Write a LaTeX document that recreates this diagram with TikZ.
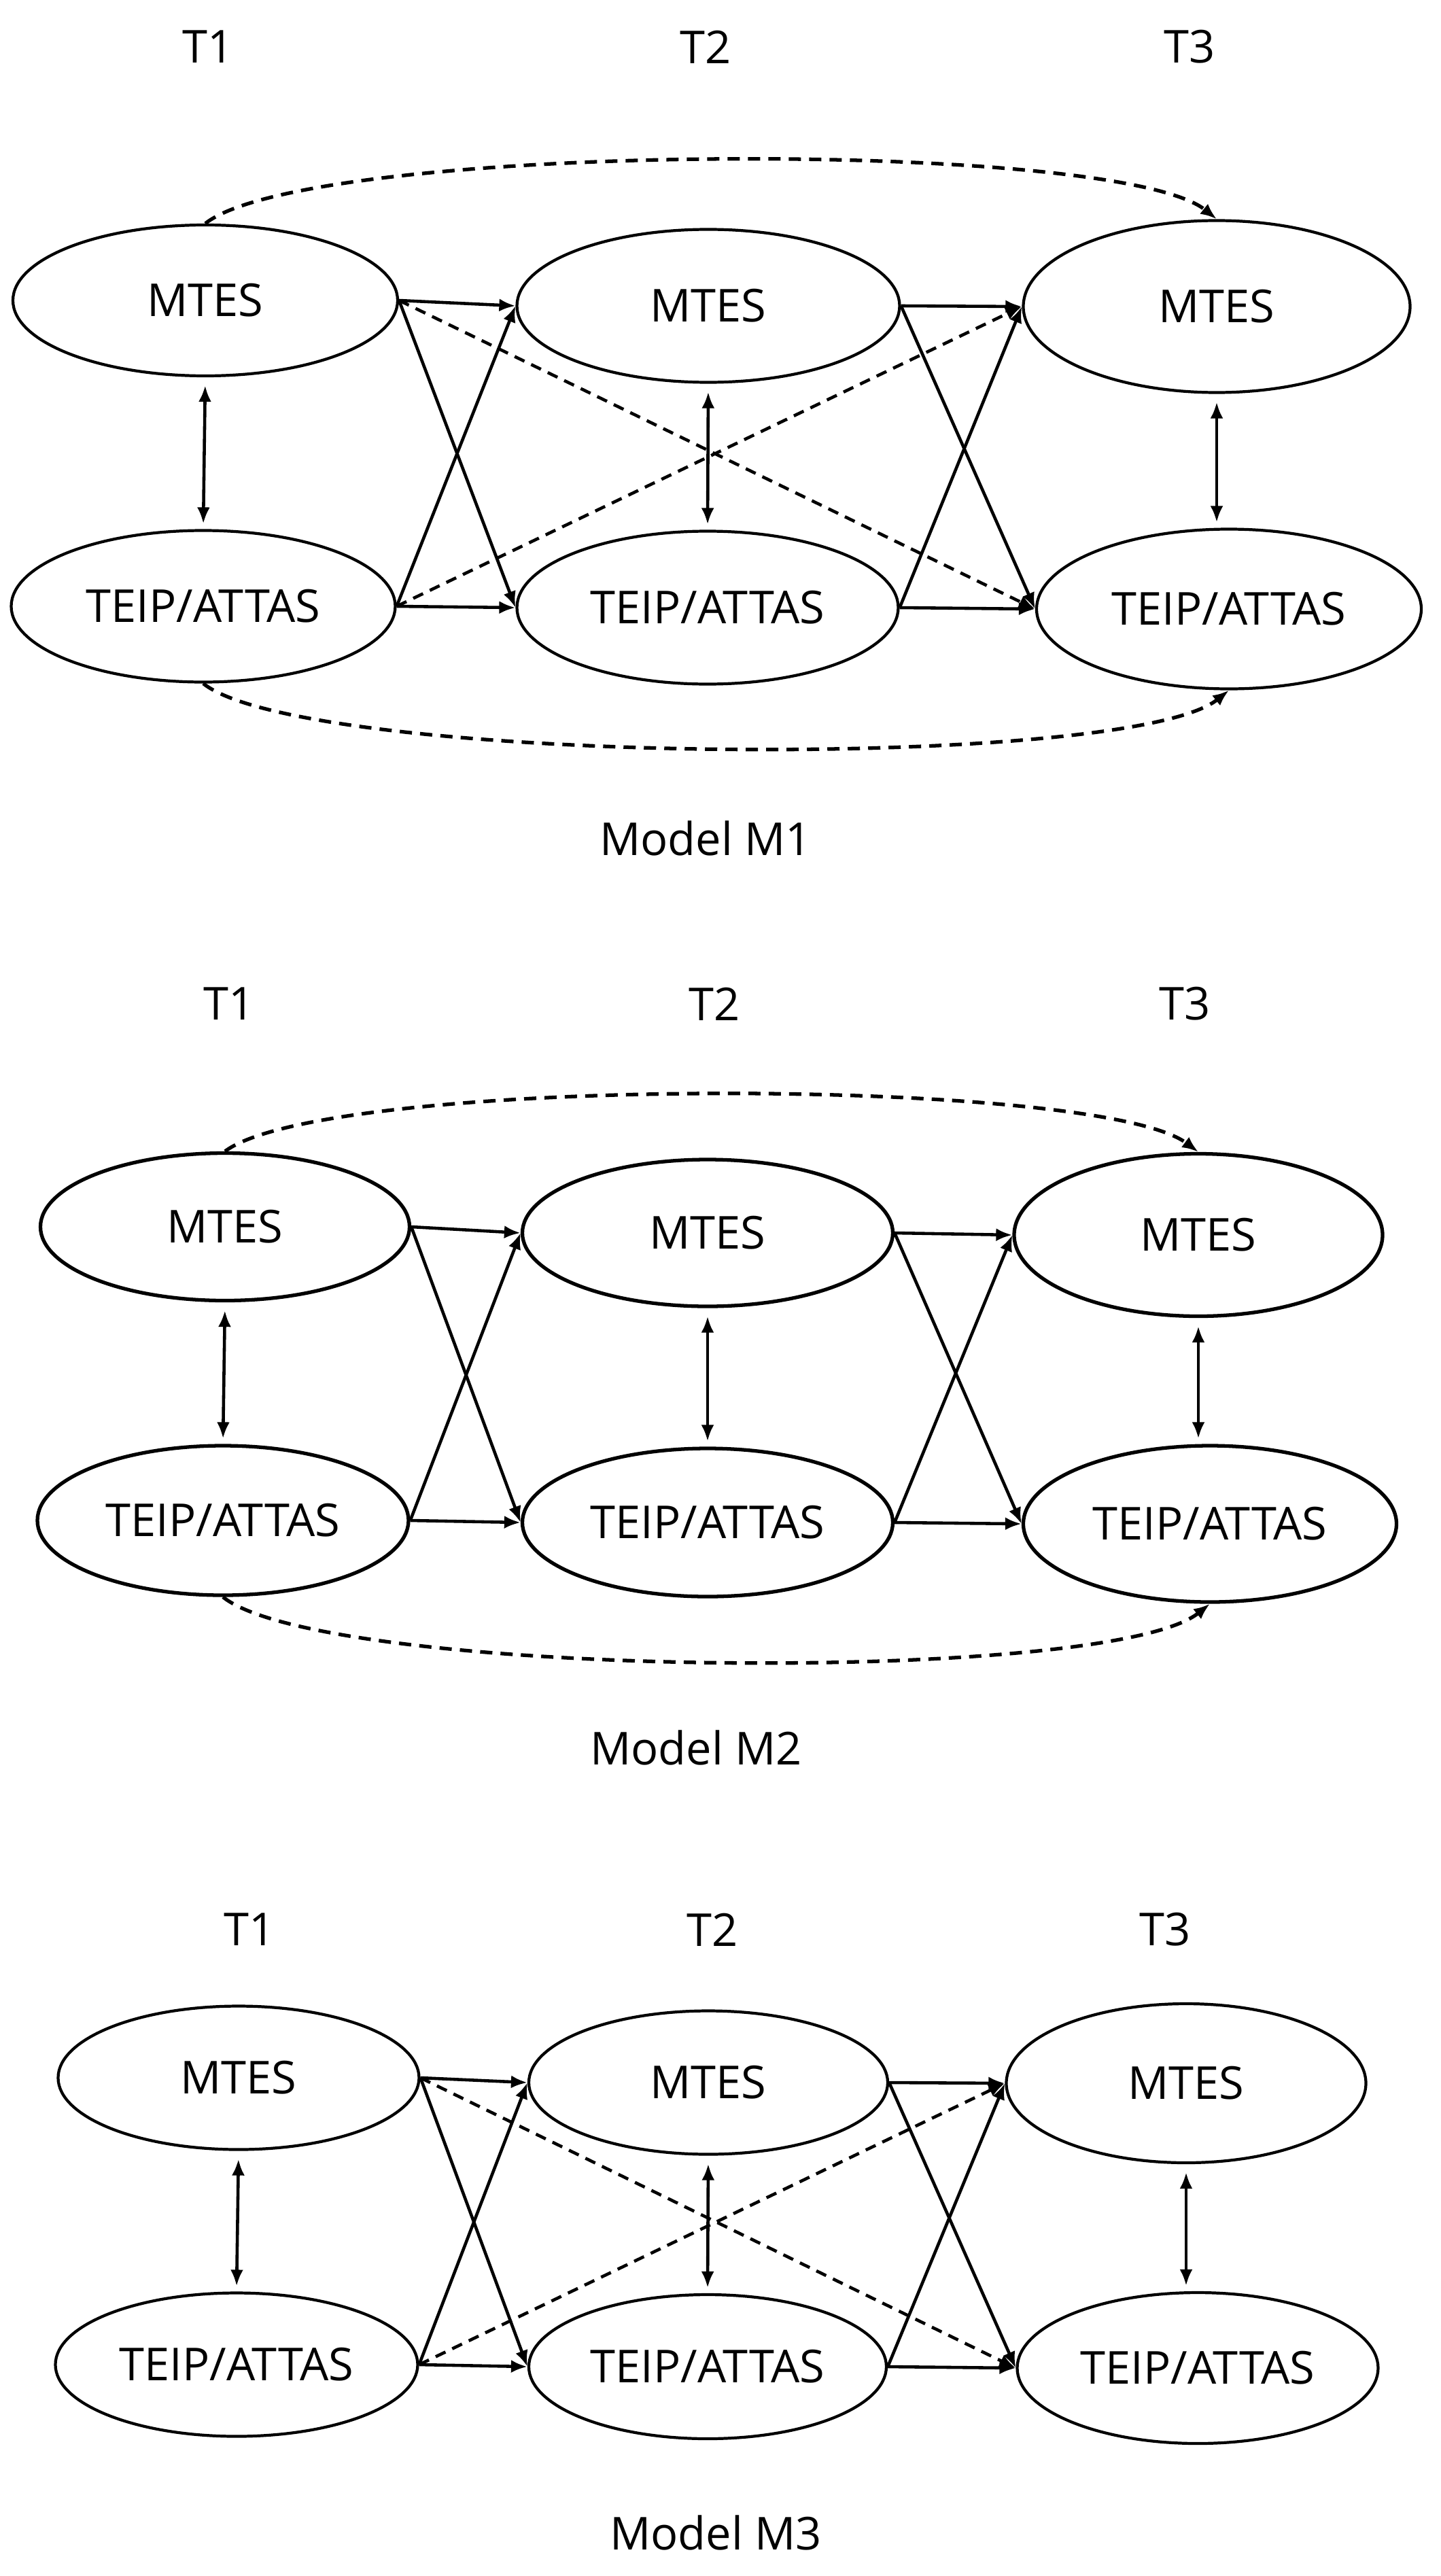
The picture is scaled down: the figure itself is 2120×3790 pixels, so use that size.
\documentclass[tikz,border=0pt]{standalone}
\usepackage{fontspec}
\setmainfont{Open Sans}
\usetikzlibrary{shapes.geometric, arrows.meta}

\begin{document}
\begin{tikzpicture}[x=0.1mm, y=-0.1mm, font=\fontsize{19}{23}\selectfont,
	main/.style 2 args = {draw, ellipse, line width=1.2pt, minimum width=#1mm, minimum height=#2mm, inner sep=0pt},
	arr/.style = {-{Latex[length=2.4mm, width=1.9mm]}, line width=1.3pt},
	dsh/.style = {arr, dash pattern=on 1.6mm off 1.1mm},
	curv/.style = {arr, line width=1.5pt, dash pattern=on 1.8mm off 1.2mm},
	twoway/.style = {{Latex[length=2.4mm, width=1.9mm]}-{Latex[length=2.4mm, width=1.9mm]}, line width=1.3pt, shorten <=1.2mm, shorten >=0.8mm}]
	\useasboundingbox (0,0) rectangle (2120,3790);

	\node (a1) at (306,69) {T1};
	\node (a2) at (1038,69) {T2};
	\node (a3) at (1750,69) {T3};
	\node[main={56.6}{22.2}] (1) at (302,442) {MTES};
	\node[main={56.3}{22.5}] (2) at (1042,450) {MTES};
	\node[main={56.9}{25.3}] (3) at (1790,451) {MTES};
	\node[main={56.5}{22.3}] (4) at (299,892) {TEIP/ATTAS};
	\node[main={56.1}{22.5}] (5) at (1041,894) {TEIP/ATTAS};
	\node[main={56.6}{23.5}] (6) at (1808,896) {TEIP/ATTAS};
	\node (ma) at (1038,1233) {Model M1};
	\draw[arr] (1.east) -- (2.west);
	\draw[arr] (1.east) -- (5.west);
	\draw[arr] (4.east) -- (2.west);
	\draw[arr] (4.east) -- (5.west);
	\draw[arr] (2.east) -- (3.west);
	\draw[arr] (2.east) -- (6.west);
	\draw[arr] (5.east) -- (3.west);
	\draw[arr] (5.east) -- (6.west);
	\draw[dsh] (1.east) -- (6.west);
	\draw[dsh] (4.east) -- (3.west);
	\draw[twoway] (1.south) -- (4.north);
	\draw[twoway] (2.south) -- (5.north);
	\draw[twoway] (3.south) -- (3.south |- 6.north);
	\draw[curv] (1.north) .. controls +(150,-120) and +(-150,-120) .. (3.north);
	\draw[curv] (4.south) .. controls +(150,120) and +(-150,120) .. (6.south);

	\node (b1) at (337,1477) {T1};
	\node (b2) at (1051,1477) {T2};
	\node (b3) at (1743,1477) {T3};
	\node[main={54.3}{21.7}, line width=1.5pt] (7) at (331,1805) {MTES};
	\node[main={54.5}{21.6}, line width=1.5pt] (8) at (1041,1814) {MTES};
	\node[main={54.2}{23.9}, line width=1.5pt] (9) at (1763,1817) {MTES};
	\node[main={54.6}{22.0}, line width=1.5pt] (10) at (328,2237) {TEIP/ATTAS};
	\node[main={54.5}{21.8}, line width=1.5pt] (11) at (1041,2240) {TEIP/ATTAS};
	\node[main={54.9}{23.0}, line width=1.5pt] (12) at (1780,2242) {TEIP/ATTAS};
	\node (mb) at (1024,2571) {Model M2};
	\draw[arr] (7.east) -- (8.west);
	\draw[arr] (7.east) -- (11.west);
	\draw[arr] (10.east) -- (8.west);
	\draw[arr] (10.east) -- (11.west);
	\draw[arr] (8.east) -- (9.west);
	\draw[arr] (8.east) -- (12.west);
	\draw[arr] (11.east) -- (9.west);
	\draw[arr] (11.east) -- (12.west);
	\draw[twoway] (7.south) -- (10.north);
	\draw[twoway] (8.south) -- (11.north);
	\draw[twoway] (9.south) -- (9.south |- 12.north);
	\draw[curv] (7.north) .. controls +(150,-112) and +(-150,-112) .. (9.north);
	\draw[curv] (10.south) .. controls +(150,120) and +(-150,120) .. (12.south);

	\node (c1) at (367,2839) {T1};
	\node (c2) at (1048,2839) {T2};
	\node (c3) at (1714,2839) {T3};
	\node[main={53.1}{21.1}] (13) at (351,3057) {MTES};
	\node[main={52.8}{21.1}] (14) at (1042,3064) {MTES};
	\node[main={52.9}{23.4}] (15) at (1745,3065) {MTES};
	\node[main={53.3}{21.1}] (16) at (348,3479) {TEIP/ATTAS};
	\node[main={52.6}{21.2}] (17) at (1041,3482) {TEIP/ATTAS};
	\node[main={53.1}{22.2}] (18) at (1762,3484) {TEIP/ATTAS};
	\node (mc) at (1053,3726) {Model M3};
	\draw[arr] (13.east) -- (14.west);
	\draw[arr] (13.east) -- (17.west);
	\draw[arr] (16.east) -- (14.west);
	\draw[arr] (16.east) -- (17.west);
	\draw[arr] (14.east) -- (15.west);
	\draw[arr] (14.east) -- (18.west);
	\draw[arr] (17.east) -- (15.west);
	\draw[arr] (17.east) -- (18.west);
	\draw[dsh] (13.east) -- (18.west);
	\draw[dsh] (16.east) -- (15.west);
	\draw[twoway] (13.south) -- (16.north);
	\draw[twoway] (14.south) -- (17.north);
	\draw[twoway] (15.south) -- (15.south |- 18.north);
\end{tikzpicture}
\end{document}
